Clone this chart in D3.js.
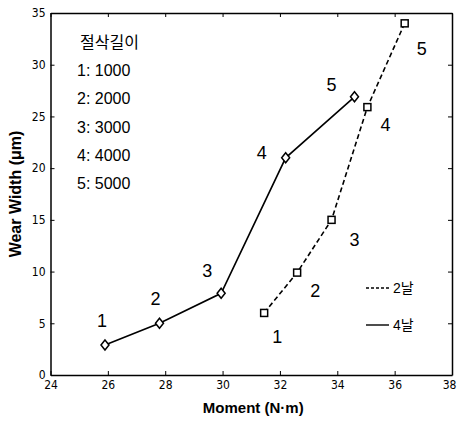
<!DOCTYPE html>
<html>
<head>
<meta charset="utf-8">
<script src="https://cdn.jsdelivr.net/npm/d3@7"></script>
<style>
  body { margin: 0; background: #fff; }
  text { font-family: Arial, "Liberation Sans", "Noto Sans CJK KR", sans-serif; fill: #000; }
  .tick text { font-family: "DejaVu Sans Condensed", "Liberation Sans Narrow", Arial, sans-serif; }
</style>
</head>
<body>
<div id="chart"></div>
<script>
// 데이터
const moment4 = [25.9, 27.8, 29.95, 32.2, 34.6];
const wear4 = [2.9, 5.0, 7.9, 21.0, 26.9];
const moment2 = [31.45, 32.6, 33.8, 35.05, 36.35];
const wear2 = [6.0, 9.9, 15.0, 25.9, 34.0];
const pointLabels = ["1", "2", "3", "4", "5"];
const lengthLegend = ["1: 1000", "2: 2000", "3: 3000", "4: 4000", "5: 5000"];
const xTicks = [24, 26, 28, 30, 32, 34, 36, 38];
const yTicks = [0, 5, 10, 15, 20, 25, 30, 35];

const W = 457, H = 423;
const margin = { left: 50.5, right: 5, top: 13, bottom: 48 };

const svg = d3.select("#chart").append("svg")
  .attr("width", W).attr("height", H);

const x = d3.scaleLinear().domain([24, 38]).range([margin.left, W - margin.right]);
const y = d3.scaleLinear().domain([0, 35]).range([H - margin.bottom, margin.top]);

// 축 (눈금은 안쪽으로)
const tick = 4;
svg.append("g").attr("transform", `translate(0,${y(0)})`)
  .call(d3.axisBottom(x).tickValues(xTicks).tickSizeInner(-tick).tickSizeOuter(0).tickPadding(5))
  .call(g => g.selectAll("text").attr("font-size", 12))
  .call(g => g.selectAll(".tick:last-of-type text").attr("dx", -3));
svg.append("g").attr("transform", `translate(0,${y(35)})`)
  .call(d3.axisTop(x).tickValues(xTicks).tickSizeInner(-tick).tickSizeOuter(0).tickFormat(""));
svg.append("g").attr("transform", `translate(${x(24)},0)`)
  .call(d3.axisLeft(y).tickValues(yTicks).tickSizeInner(-tick).tickSizeOuter(0).tickPadding(5))
  .call(g => g.selectAll("text").attr("font-size", 12));
svg.append("g").attr("transform", `translate(${x(38)},0)`)
  .call(d3.axisRight(y).tickValues(yTicks).tickSizeInner(-tick).tickSizeOuter(0).tickFormat(""));
svg.selectAll(".domain").attr("stroke", "#000").attr("stroke-width", 1.5);
svg.selectAll(".tick line").attr("stroke", "#000");

// 축 제목
svg.append("text").attr("x", (x(24) + x(38)) / 2 + 2).attr("y", 413)
  .attr("text-anchor", "middle").attr("font-size", 15).attr("font-weight", "bold")
  .text("Moment (N·m)");
svg.append("text")
  .attr("transform", `translate(21,${(y(0) + y(35)) / 2}) rotate(-90)`)
  .attr("text-anchor", "middle").attr("font-size", 16).attr("font-weight", "bold")
  .text("Wear Width (μm)");

// 선
const d4 = moment4.map((m, i) => ({ x: m, y: wear4[i] }));
const d2 = moment2.map((m, i) => ({ x: m, y: wear2[i] }));
const line = d3.line().x(d => x(d.x)).y(d => y(d.y));

svg.append("path").datum(d4)
  .attr("d", line)
  .attr("fill", "none").attr("stroke", "#000").attr("stroke-width", 1.6);
svg.append("path").datum(d2)
  .attr("d", line)
  .attr("fill", "none").attr("stroke", "#000").attr("stroke-width", 1.6)
  .attr("stroke-dasharray", "5,3");

// 마커
svg.append("g").selectAll("path").data(d4).join("path")
  .attr("transform", d => `translate(${x(d.x)},${y(d.y)})`)
  .attr("d", "M0,-5L4,0L0,5L-4,0Z")
  .attr("fill", "#fff").attr("stroke", "#000").attr("stroke-width", 1.5);
svg.append("g").selectAll("rect").data(d2).join("rect")
  .attr("x", d => x(d.x) - 3.5).attr("y", d => y(d.y) - 3.5)
  .attr("width", 7).attr("height", 7)
  .attr("fill", "#fff").attr("stroke", "#000").attr("stroke-width", 1.5);

// 점 번호
const off4 = [[-3, -25], [-4, -25], [-14, -23], [-24, -6], [-23, -13]];
const off2 = [[13, 23], [18, 17], [23, 19], [18, 17], [17, 25]];
svg.append("g").selectAll("text").data(d4).join("text")
  .attr("x", (d, i) => x(d.x) + off4[i][0]).attr("y", (d, i) => y(d.y) + off4[i][1] + 7)
  .attr("text-anchor", "middle").attr("font-size", 18)
  .text((d, i) => pointLabels[i]);
svg.append("g").selectAll("text").data(d2).join("text")
  .attr("x", (d, i) => x(d.x) + off2[i][0]).attr("y", (d, i) => y(d.y) + off2[i][1] + 7)
  .attr("text-anchor", "middle").attr("font-size", 18)
  .text((d, i) => pointLabels[i]);

// 절삭길이 범례
svg.append("text").attr("x", 80).attr("y", 48).attr("font-size", 16).text("절삭길이");
svg.append("g").selectAll("text").data(lengthLegend).join("text")
  .attr("x", 77).attr("y", (d, i) => 76 + i * 28.3)
  .attr("font-size", 16).text(d => d);

// 선 범례
const legend = [{ label: "2날", dash: "3,2", yy: 288 }, { label: "4날", dash: null, yy: 325 }];
legend.forEach(l => {
  svg.append("line").attr("x1", 366).attr("x2", 389).attr("y1", l.yy).attr("y2", l.yy)
    .attr("stroke", "#000").attr("stroke-width", 1.4)
    .attr("stroke-dasharray", l.dash);
  svg.append("text").attr("x", 393).attr("y", l.yy + 5).attr("font-size", 14).text(l.label);
});
</script>
</body>
</html>
